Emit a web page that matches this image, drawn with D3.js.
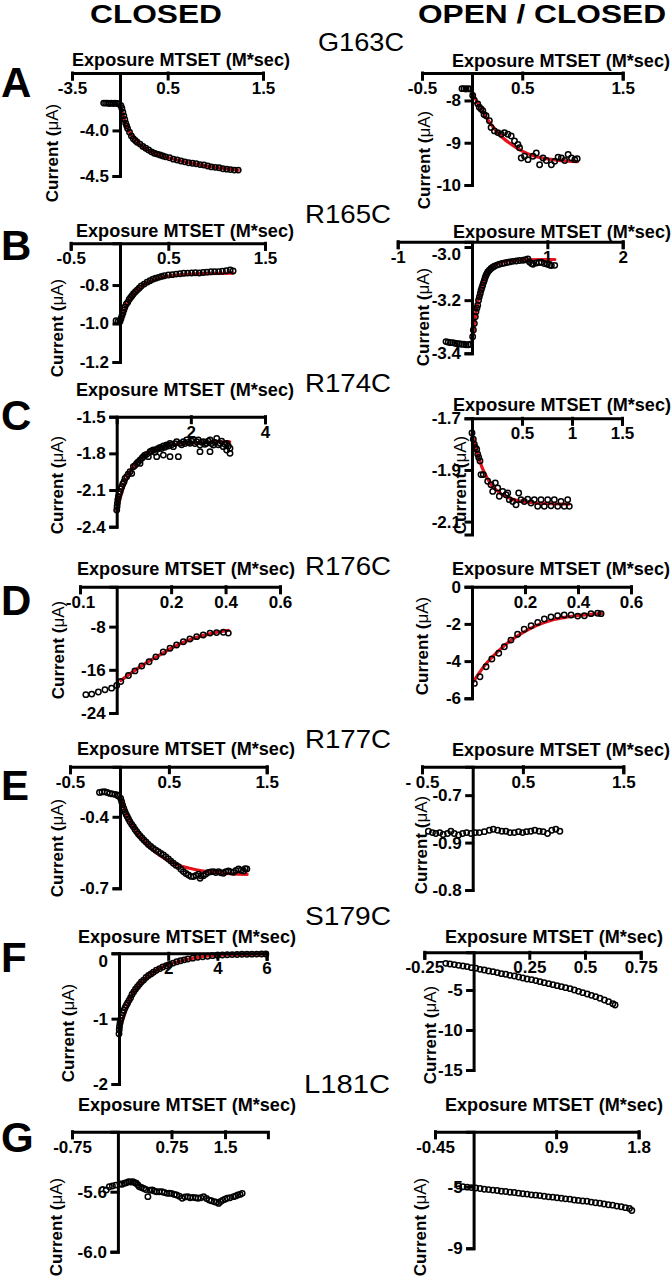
<!DOCTYPE html>
<html><head><meta charset="utf-8">
<script src="https://cdn.jsdelivr.net/npm/d3@7"></script>
<style>
body{margin:0;background:#fff}
svg{display:block}
.ax path,.ax line{stroke:#000;stroke-width:3;stroke-linecap:square}
.ax text{font-family:"Liberation Sans",Arial,sans-serif;font-weight:bold;font-size:17px;fill:#000}
text{font-family:"Liberation Sans",Arial,sans-serif}
</style></head><body><svg id="c" width="672" height="1280"></svg>
<script>
// ---------- text ----------
const colTitles = ["CLOSED", "OPEN / CLOSED"];
const rowLetters = ["A", "B", "C", "D", "E", "F", "G"];
const mutants = ["G163C", "R165C", "R174C", "R176C", "R177C", "S179C", "L181C"];
const xTitle = "Exposure MTSET (M*sec)";
const yTitle = "Current (";
const yUnit = "\u03BCA)";

// ---------- A: G163C ----------
const aCXDom = [-0.5, 0, 1.5], aCYDom = [-4.5, -3.37];
const aCXTicks = [-0.5, 0.5, 1.5], aCXLabels = ["-3.5", "0.5", "1.5"];
const aCYTicks = [-4.0, -4.5], aCYLabels = ["-4.0", "-4.5"];
const aCPts = [[-0.17,-3.70],[-0.15,-3.70],[-0.13,-3.70],[-0.11,-3.705],[-0.09,-3.70],[-0.07,-3.705],[-0.05,-3.70],[-0.03,-3.705],[-0.01,-3.71],
[0.01,-3.73],[0.02,-3.76],[0.03,-3.80],[0.04,-3.84],[0.05,-3.88],[0.06,-3.92],[0.07,-3.95],[0.08,-3.98],[0.10,-4.02],[0.12,-4.06],[0.14,-4.09],[0.16,-4.11],[0.18,-4.13],[0.21,-4.15],[0.24,-4.175],[0.27,-4.195],[0.30,-4.215],[0.33,-4.235],[0.36,-4.25],[0.39,-4.26],[0.42,-4.27],[0.45,-4.28],[0.48,-4.29],[0.52,-4.30],[0.56,-4.315],[0.60,-4.325],[0.64,-4.335],[0.68,-4.345],[0.72,-4.355],[0.76,-4.36],[0.80,-4.365],[0.84,-4.375],[0.88,-4.38],[0.92,-4.39],[0.96,-4.40],[1.00,-4.405],[1.04,-4.41],[1.08,-4.42],[1.12,-4.425],[1.16,-4.43],[1.20,-4.435],[1.24,-4.435]];
const aCFit = [[0,-3.72],[0.05,-3.9],[0.1,-4.02],[0.2,-4.15],[0.3,-4.22],[0.45,-4.28],[0.6,-4.325],[0.8,-4.37],[1.0,-4.405],[1.24,-4.435]];

const aOXDom = [-0.5, 0, 1.5], aOYDom = [-10, -7.35];
const aOXTicks = [-0.5, 0.5, 1.5], aOXLabels = ["-0.5", "0.5", "1.5"];
const aOYTicks = [-8, -9, -10], aOYLabels = ["-8", "-9", "-10"];
const aOPts = [[-0.10,-7.72],[-0.08,-7.72],[-0.06,-7.73],[-0.04,-7.72],[-0.02,-7.73],[0.007,-7.88],[0.023,-8.0],[0.057,-8.08],[0.073,-8.16],[0.09,-8.2],[0.107,-8.24],[0.12,-8.33],[0.14,-8.36],[0.173,-8.48],[0.19,-8.64],[0.223,-8.72],[0.257,-8.76],[0.29,-8.80],[0.323,-8.76],[0.357,-8.80],[0.39,-8.84],[0.423,-8.96],[0.457,-9.04],[0.473,-9.12],[0.49,-9.36],[0.523,-9.32],[0.557,-9.40],[0.607,-9.32],[0.64,-9.24],[0.673,-9.52],[0.707,-9.36],[0.74,-9.42],[0.79,-9.52],[0.823,-9.44],[0.857,-9.34],[0.89,-9.36],[0.923,-9.42],[0.957,-9.28],[0.99,-9.36],[1.023,-9.40],[1.047,-9.38]];
const aOFit = [[0,-7.8],[0.1,-8.25],[0.2,-8.6],[0.3,-8.87],[0.4,-9.05],[0.5,-9.2],[0.6,-9.3],[0.7,-9.36],[0.85,-9.41],[1.05,-9.45]];

// ---------- B: R165C ----------
const bCXDom = [-0.5, 0, 1.5], bCYDom = [-1.2, -0.583];
const bCXTicks = [-0.5, 0.5, 1.5], bCXLabels = ["-0.5", "0.5", "1.5"];
const bCYTicks = [-0.8, -1.0, -1.2], bCYLabels = ["-0.8", "-1.0", "-1.2"];
const bCPts = [[-0.04,-0.985],[-0.02,-0.99],[0,-0.99],[0.01,-0.975],[0.02,-0.96],[0.03,-0.945],[0.04,-0.93],[0.05,-0.915],[0.065,-0.90],[0.08,-0.89],[0.095,-0.875],[0.11,-0.865],[0.125,-0.855],[0.14,-0.845],[0.16,-0.835],[0.18,-0.825],[0.2,-0.815],[0.22,-0.805],[0.25,-0.795],[0.28,-0.785],[0.31,-0.778],[0.34,-0.77],[0.37,-0.765],[0.40,-0.76],[0.43,-0.755],[0.46,-0.752],[0.5,-0.748],[0.54,-0.746],[0.58,-0.743],[0.62,-0.741],[0.66,-0.739],[0.70,-0.738],[0.74,-0.737],[0.78,-0.736],[0.82,-0.737],[0.86,-0.735],[0.90,-0.733],[0.94,-0.731],[0.98,-0.73],[1.02,-0.73],[1.06,-0.728],[1.1,-0.726],[1.14,-0.722],[1.17,-0.727]];
const bCFit = [[0,-1.0],[0.05,-0.93],[0.1,-0.88],[0.15,-0.845],[0.2,-0.815],[0.3,-0.785],[0.4,-0.765],[0.6,-0.748],[0.8,-0.742],[1.17,-0.738]];

const bOXDom = [-1, 0, 2], bOYDom = [-3.4, -2.98];
const bOXTicks = [-1, 1, 2], bOXLabels = ["-1", "1", "2"];
const bOYTicks = [-3.0, -3.2, -3.4], bOYLabels = ["-3.0", "-3.2", "-3.4"];
const bOPts = [[-0.35,-3.356],[-0.32,-3.358],[-0.29,-3.36],[-0.26,-3.36],[-0.23,-3.362],[-0.2,-3.364],[-0.17,-3.364],[-0.14,-3.366],[-0.11,-3.366],[-0.08,-3.368],[-0.05,-3.368],[-0.02,-3.366],
[0.009,-3.3375],[0.018,-3.3125],[0.031,-3.2875],[0.044,-3.2625],[0.053,-3.244],[0.065,-3.23],[0.076,-3.219],[0.087,-3.2],[0.098,-3.1875],[0.11,-3.175],[0.12,-3.1625],[0.131,-3.153],[0.142,-3.144],[0.153,-3.134],[0.164,-3.125],[0.175,-3.115],[0.187,-3.106],[0.198,-3.1],[0.209,-3.094],[0.23,-3.087],[0.253,-3.081],[0.275,-3.076],[0.298,-3.0725],[0.33,-3.068],[0.364,-3.065],[0.4,-3.062],[0.431,-3.06],[0.465,-3.058],[0.498,-3.056],[0.54,-3.054],[0.587,-3.0525],[0.63,-3.051],[0.676,-3.05],[0.71,-3.048],[0.742,-3.045],[0.764,-3.056],[0.79,-3.062],[0.809,-3.065],[0.853,-3.06],[0.89,-3.058],[0.92,-3.0575],[0.96,-3.062],[1.0,-3.065],[1.03,-3.068],[1.053,-3.07],[1.098,-3.069]];
const bOFit = [[0,-3.36],[0.02,-3.31],[0.05,-3.25],[0.08,-3.2],[0.12,-3.155],[0.17,-3.115],[0.25,-3.08],[0.35,-3.062],[0.5,-3.052],[0.7,-3.048],[1.1,-3.047]];

// ---------- C: R174C ----------
const cCXDom = [0, 4], cCYDom = [-2.4, -1.5];
const cCXTicks = [2, 4], cCXLabels = ["2", "4"];
const cCYTicks = [-1.5, -1.8, -2.1, -2.4], cCYLabels = ["-1.5", "-1.8", "-2.1", "-2.4"];
const cCPts = [[0,-2.264],[0.01,-2.235],[0.018,-2.209],[0.03,-2.18],[0.045,-2.155],[0.065,-2.13],[0.09,-2.114],[0.11,-2.09],[0.135,-2.073],[0.165,-2.05],[0.198,-2.032],[0.225,-2.005],[0.27,-1.991],[0.31,-1.97],[0.36,-1.95],[0.405,-1.964],[0.449,-1.909],[0.49,-1.9],[0.539,-1.882],[0.58,-1.87],[0.629,-1.855],[0.629,-1.882],[0.68,-1.84],[0.719,-1.827],[0.76,-1.815],[0.809,-1.808],[0.854,-1.827],[0.899,-1.786],[0.94,-1.78],[0.989,-1.773],[1.03,-1.79],[1.079,-1.767],[1.079,-1.827],[1.12,-1.76],[1.169,-1.751],[1.21,-1.76],[1.258,-1.74],[1.258,-1.814],[1.3,-1.75],[1.348,-1.732],[1.39,-1.74],[1.438,-1.718],[1.438,-1.827],[1.48,-1.73],[1.528,-1.745],[1.57,-1.72],[1.618,-1.705],[1.663,-1.827],[1.708,-1.718],[1.75,-1.73],[1.798,-1.705],[1.84,-1.72],[1.888,-1.691],[1.93,-1.71],[1.978,-1.718],[2.02,-1.7],[2.067,-1.691],[2.11,-1.72],[2.157,-1.705],[2.2,-1.69],[2.247,-1.732],[2.247,-1.786],[2.29,-1.71],[2.337,-1.705],[2.38,-1.725],[2.427,-1.718],[2.47,-1.70],[2.517,-1.691],[2.517,-1.786],[2.56,-1.72],[2.607,-1.732],[2.65,-1.71],[2.697,-1.677],[2.74,-1.73],[2.787,-1.718],[2.83,-1.70],[2.876,-1.745],[2.92,-1.725],[2.966,-1.718],[2.966,-1.773],[3.01,-1.74],[3.056,-1.759],[3.056,-1.8]];
const cCFit = [[0,-2.27],[0.2,-2.06],[0.4,-1.93],[0.6,-1.85],[0.8,-1.8],[1.0,-1.77],[1.5,-1.73],[2.0,-1.715],[3.05,-1.705]];

const cOXDom = [0, 1.5], cOYDom = [-2.15, -1.7];
const cOXTicks = [0.5, 1, 1.5], cOXLabels = ["0.5", "1", "1.5"];
const cOYTicks = [-1.7, -1.9, -2.1], cOYLabels = ["-1.7", "-1.9", "-2.1"];
const cOPts = [[0,-1.757],[0.013,-1.781],[0.023,-1.8],[0.033,-1.813],[0.047,-1.82],[0.057,-1.839],[0.067,-1.852],[0.08,-1.865],[0.09,-1.918],[0.113,-1.918],[0.157,-1.944],[0.19,-1.957],[0.207,-1.983],[0.233,-1.95],[0.257,-1.97],[0.273,-2.002],[0.307,-1.983],[0.34,-1.996],[0.357,-1.989],[0.373,-2.015],[0.407,-2.022],[0.44,-2.035],[0.467,-1.989],[0.49,-2.015],[0.523,-2.022],[0.557,-2.013],[0.59,-2.028],[0.623,-2.015],[0.657,-2.041],[0.69,-2.015],[0.723,-2.041],[0.757,-2.015],[0.79,-2.039],[0.823,-2.015],[0.857,-2.041],[0.89,-2.022],[0.923,-2.041],[0.957,-2.015],[0.973,-2.041]];
const cOFit = [[0,-1.76],[0.05,-1.83],[0.1,-1.89],[0.15,-1.93],[0.2,-1.96],[0.3,-1.995],[0.4,-2.013],[0.55,-2.025],[0.75,-2.03],[0.97,-2.032]];

// ---------- D: R176C ----------
const dCXDom = [-0.1, 0, 0.6], dCYDom = [-24, -0.6];
const dCXTicks = [-0.1, 0.2, 0.4, 0.6], dCXLabels = ["-0.1", "0.2", "0.4", "0.6"];
const dCYTicks = [-8, -16, -24], dCYLabels = ["-8", "-16", "-24"];
const dCPts = [[-0.084,-20.6],[-0.068,-20.5],[-0.05,-20.1],[-0.032,-19.7],[-0.014,-19.4],[0,-18.9],[0.015,-18.15],[0.043,-17.05],[0.067,-16.2],[0.092,-15.3],[0.119,-14.5],[0.144,-13.6],[0.171,-12.7],[0.196,-12.0],[0.22,-11.4],[0.245,-10.8],[0.269,-10.3],[0.294,-9.85],[0.318,-9.55],[0.343,-9.2],[0.367,-9.1],[0.392,-9.05],[0.41,-9.2]];
const dCFit = [[0.015,-18.0],[0.05,-16.7],[0.1,-15.0],[0.15,-13.5],[0.2,-12.0],[0.25,-10.8],[0.3,-9.9],[0.35,-9.25],[0.41,-8.7]];

const dOXDom = [0, 0.6], dOYDom = [-6, 0];
const dOXTicks = [0.2, 0.4, 0.6], dOXLabels = ["0.2", "0.4", "0.6"];
const dOYTicks = [0, -2, -4, -6], dOYLabels = ["0", "-2", "-4", "-6"];
const dOPts = [[0.009,-5.2],[0.03,-4.84],[0.053,-4.3],[0.075,-3.89],[0.101,-3.58],[0.122,-3.23],[0.147,-2.87],[0.172,-2.56],[0.197,-2.29],[0.223,-2.1],[0.248,-1.92],[0.273,-1.74],[0.298,-1.63],[0.323,-1.56],[0.348,-1.52],[0.374,-1.52],[0.399,-1.58],[0.424,-1.56],[0.449,-1.45],[0.474,-1.43],[0.487,-1.45]];
const dOFit = [[0.005,-5.1],[0.05,-4.2],[0.1,-3.45],[0.15,-2.85],[0.2,-2.4],[0.25,-2.05],[0.3,-1.8],[0.35,-1.65],[0.4,-1.55],[0.49,-1.45]];

// ---------- E: R177C ----------
const eCXDom = [-0.5, 0, 1.5], eCYDom = [-0.7, -0.19];
const eCXTicks = [-0.5, 0.5, 1.5], eCXLabels = ["-0.5", "0.5", "1.5"];
const eCYTicks = [-0.4, -0.7], eCYLabels = ["-0.4", "-0.7"];
const eCPts = [[-0.205,-0.298],[-0.18,-0.296],[-0.154,-0.295],[-0.128,-0.298],[-0.102,-0.302],[-0.077,-0.304],[-0.051,-0.306],[-0.03,-0.309],[-0.017,-0.313],
[0.007,-0.323],[0.017,-0.337],[0.027,-0.351],[0.039,-0.365],[0.051,-0.379],[0.063,-0.39],[0.075,-0.4],[0.088,-0.41],[0.102,-0.421],[0.12,-0.432],[0.137,-0.442],[0.154,-0.453],[0.171,-0.463],[0.188,-0.472],[0.205,-0.48],[0.225,-0.489],[0.246,-0.498],[0.268,-0.507],[0.29,-0.516],[0.315,-0.525],[0.341,-0.533],[0.366,-0.54],[0.392,-0.547],[0.418,-0.554],[0.444,-0.56],[0.47,-0.569],[0.495,-0.577],[0.52,-0.586],[0.546,-0.595],[0.572,-0.603],[0.597,-0.609],[0.623,-0.62],[0.648,-0.63],[0.674,-0.638],[0.7,-0.644],[0.726,-0.65],[0.751,-0.651],[0.777,-0.646],[0.802,-0.641],[0.819,-0.658],[0.828,-0.648],[0.853,-0.647],[0.878,-0.64],[0.904,-0.633],[0.93,-0.631],[0.956,-0.63],[0.98,-0.634],[1.007,-0.63],[1.032,-0.635],[1.058,-0.637],[1.083,-0.63],[1.109,-0.627],[1.135,-0.631],[1.16,-0.633],[1.186,-0.625],[1.212,-0.619],[1.237,-0.624],[1.263,-0.627],[1.28,-0.618],[1.297,-0.619]];
const eCFit = [[0,-0.31],[0.1,-0.415],[0.2,-0.48],[0.3,-0.525],[0.4,-0.56],[0.5,-0.585],[0.6,-0.603],[0.7,-0.615],[0.85,-0.628],[1.0,-0.634],[1.3,-0.642]];

const eOXDom = [-0.5, 0, 1.5], eOYDom = [-0.9, -0.64];
const eOXTicks = [-0.5, 0.5, 1.5], eOXLabels = ["- 0.5", "0.5", "1.5"];
const eOYTicks = [-0.7, -0.8, -0.9], eOYLabels = ["-0.7", "-0.9", "-0.8"];
const eOPts = [[-0.437,-0.776],[-0.397,-0.779],[-0.364,-0.781],[-0.325,-0.779],[-0.291,-0.783],[-0.248,-0.781],[-0.215,-0.776],[-0.182,-0.781],[-0.139,-0.784],[-0.099,-0.781],[-0.06,-0.779],[-0.017,-0.781],[0.026,-0.779],[0.066,-0.779],[0.116,-0.777],[0.166,-0.774],[0.205,-0.772],[0.248,-0.774],[0.291,-0.776],[0.331,-0.776],[0.371,-0.779],[0.414,-0.779],[0.457,-0.777],[0.497,-0.779],[0.536,-0.777],[0.579,-0.776],[0.619,-0.774],[0.662,-0.776],[0.702,-0.777],[0.745,-0.781],[0.788,-0.774],[0.828,-0.772],[0.868,-0.776]];

// ---------- F: S179C ----------
const fCXDom = [0, 6], fCYDom = [-2, 0];
const fCXTicks = [2, 4, 6], fCXLabels = ["2", "4", "6"];
const fCYTicks = [0, -1, -2], fCYLabels = ["0", "-1", "-2"];
const fCPts = [[0,-1.23],[0.01,-1.17],[0.02,-1.12],[0.04,-1.07],[0.06,-1.03],[0.09,-0.99],[0.12,-0.95],[0.16,-0.91],[0.2,-0.87],[0.25,-0.83],[0.3,-0.795],[0.35,-0.76],[0.41,-0.72],[0.47,-0.68],[0.53,-0.63],[0.6,-0.59],[0.67,-0.55],[0.75,-0.51],[0.83,-0.475],[0.91,-0.44],[1.0,-0.41],[1.1,-0.37],[1.2,-0.34],[1.3,-0.315],[1.4,-0.29],[1.52,-0.26],[1.65,-0.235],[1.78,-0.21],[1.92,-0.19],[2.05,-0.17],[2.2,-0.15],[2.35,-0.13],[2.5,-0.115],[2.65,-0.1],[2.8,-0.088],[3.0,-0.074],[3.2,-0.062],[3.4,-0.052],[3.6,-0.044],[3.8,-0.036],[4.0,-0.03],[4.2,-0.026],[4.4,-0.023],[4.6,-0.02],[4.8,-0.018],[5.0,-0.015],[5.2,-0.014],[5.4,-0.013],[5.6,-0.012],[5.8,-0.011],[5.97,-0.01]];
const fCFit = [[0,-1.2],[0.5,-0.66],[1,-0.41],[1.5,-0.265],[2,-0.175],[3,-0.075],[4,-0.03],[6,-0.01]];

const fOXDom = [-0.25, 0, 0.75], fOYDom = [-15, -0.29];
const fOXTicks = [-0.25, 0.25, 0.5, 0.75], fOXLabels = ["-0.25", "0.25", "0.5", "0.75"];
const fOYTicks = [-5, -10, -15], fOYLabels = ["-5", "-10", "-15"];
const fOPts = [[-0.141,-1.67],[-0.12,-1.75],[-0.098,-1.83],[-0.076,-1.92],[-0.054,-2.0],[-0.033,-2.08],[-0.011,-2.21],[0.01,-2.29],[0.029,-2.42],[0.048,-2.5],[0.067,-2.63],[0.087,-2.71],[0.106,-2.83],[0.125,-2.96],[0.144,-3.04],[0.163,-3.17],[0.183,-3.25],[0.202,-3.375],[0.221,-3.5],[0.24,-3.625],[0.26,-3.71],[0.279,-3.83],[0.298,-3.96],[0.317,-4.08],[0.337,-4.21],[0.356,-4.33],[0.375,-4.46],[0.394,-4.58],[0.413,-4.71],[0.433,-4.83],[0.452,-5.0],[0.471,-5.17],[0.49,-5.33],[0.51,-5.5],[0.529,-5.67],[0.548,-5.83],[0.567,-6.04],[0.587,-6.25],[0.606,-6.46],[0.625,-6.71],[0.635,-6.875]];

// ---------- G: L181C ----------
const gCXDom = [-0.75, 0, 2.1], gCYDom = [-6.0, -5.2];
const gCXTicks = [-0.75, 0.75, 1.5], gCXLabels = ["-0.75", "0.75", "1.5"];
const gCYTicks = [-5.6, -6.0], gCYLabels = ["-5.6", "-6.0"];
const gCPts = [[-0.19,-5.589],[-0.14,-5.567],[-0.09,-5.562],[-0.035,-5.556],[0.03,-5.549],[0.06,-5.55],[0.09,-5.544],[0.12,-5.54],[0.15,-5.533],[0.18,-5.535],[0.21,-5.533],[0.235,-5.54],[0.258,-5.544],[0.28,-5.555],[0.3,-5.567],[0.33,-5.572],[0.36,-5.578],[0.39,-5.585],[0.42,-5.633],[0.45,-5.59],[0.48,-5.589],[0.51,-5.595],[0.54,-5.6],[0.58,-5.6],[0.618,-5.6],[0.65,-5.605],[0.69,-5.611],[0.72,-5.61],[0.75,-5.611],[0.79,-5.618],[0.822,-5.622],[0.86,-5.63],[0.9,-5.644],[0.94,-5.635],[0.978,-5.633],[1.01,-5.64],[1.05,-5.638],[1.09,-5.64],[1.122,-5.644],[1.16,-5.64],[1.2,-5.633],[1.24,-5.645],[1.278,-5.656],[1.31,-5.66],[1.35,-5.667],[1.38,-5.67],[1.41,-5.678],[1.44,-5.665],[1.47,-5.656],[1.5,-5.65],[1.53,-5.644],[1.57,-5.64],[1.62,-5.633],[1.65,-5.628],[1.68,-5.622],[1.71,-5.618],[1.74,-5.611]];

const gOXDom = [-0.45, 0, 1.8], gOYDom = [-9, -1.43];
const gOXTicks = [-0.45, 0.9, 1.8], gOXLabels = ["-0.45", "0.9", "1.8"];
const gOYTicks = [-5, -9], gOYLabels = ["-5", "-9"];
const gOPts = [[-0.175,-4.96],[-0.125,-5.0],[-0.075,-5.03],[-0.025,-5.06],[0.023,-5.09],[0.07,-5.12],[0.117,-5.17],[0.163,-5.19],[0.21,-5.22],[0.257,-5.25],[0.303,-5.30],[0.35,-5.31],[0.397,-5.36],[0.443,-5.38],[0.49,-5.42],[0.537,-5.46],[0.583,-5.48],[0.63,-5.53],[0.677,-5.55],[0.723,-5.58],[0.77,-5.62],[0.817,-5.66],[0.863,-5.68],[0.91,-5.72],[0.957,-5.75],[1.003,-5.79],[1.05,-5.81],[1.097,-5.86],[1.143,-5.89],[1.19,-5.93],[1.237,-5.95],[1.283,-6.0],[1.33,-6.04],[1.377,-6.08],[1.423,-6.12],[1.47,-6.17],[1.517,-6.20],[1.563,-6.26],[1.61,-6.30],[1.656,-6.36],[1.70,-6.42],[1.726,-6.55]];

// ---------- layout (pixel positions only) ----------
// ax: x-axis y; x0/x1: x-axis ends; yx: y-axis x; yb: y-axis bottom; tx,ty: x-title centre/baseline; cx,cy: y-title centre; ls: shift of top y label
const layout = {
  aC:{ax:73,  x0:72,   yx:120,  x1:263,   yb:176,   tx:181, ty:66,   cx:52,  cy:153},
  aO:{ax:73,  x0:422,  yx:472,  x1:622.7, yb:185,   tx:561, ty:67,   cx:424, cy:160},
  bC:{ax:243.3,x0:70.7,yx:120,  x1:265,   yb:362,   tx:185, ty:237,  cx:57,  cy:328},
  bO:{ax:241.7,x0:397.7,yx:472, x1:622.7, yb:353.3, tx:562, ty:238,  cx:423, cy:317, ls:7},
  cC:{ax:416.7,x0:116.7,yx:116.7,x1:265,  yb:526.7, tx:185, ty:396,  cx:57,  cy:485},
  cO:{ax:418.3,x0:472, yx:472,  x1:622,   yb:534.5, tx:562, ty:411,  cx:460, cy:485},
  dC:{ax:586.7,x0:80,  yx:116.7,x1:280,   yb:713,   tx:186, ty:575,  cx:58,  cy:650},
  dO:{ax:586.7,x0:472, yx:472,  x1:631,   yb:698.3, tx:561, ty:575,  cx:422, cy:646},
  eC:{ax:766.7,x0:70,  yx:120,  x1:266.7, yb:888.3, tx:186, ty:755,  cx:57,  cy:848},
  eO:{ax:766.7,x0:422, yx:472.7,x1:623.3, yb:890,   tx:561, ty:756,  cx:421, cy:845},
  fC:{ax:953.3,x0:119, yx:119,  x1:266.6, yb:1084,  tx:187, ty:943,  cx:68,  cy:1033, ls:8},
  fO:{ax:952.3,x0:424.3,yx:473.6,x1:640.7,yb:1070,  tx:554, ty:943,  cx:430, cy:1035},
  gC:{ax:1131.7,x0:72, yx:117.9,x1:267.9, yb:1251.7,tx:187, ty:1111, cx:56,  cy:1227},
  gO:{ax:1131.7,x0:435,yx:473.6,x1:638.6, yb:1248.3,tx:554, ty:1111, cx:420, cy:1227}
};
const letterY = [97, 260, 430, 615, 800, 972, 1152];
const mutantPos = [[318,51],[305,223],[305,392],[305,575],[305,748],[305,925],[304,1093]];

const panels = [
  {id:"aC", pts:aCPts, fit:aCFit, xDom:aCXDom, yDom:aCYDom, xT:aCXTicks, xL:aCXLabels, yT:aCYTicks, yL:aCYLabels},
  {id:"aO", pts:aOPts, fit:aOFit, xDom:aOXDom, yDom:aOYDom, xT:aOXTicks, xL:aOXLabels, yT:aOYTicks, yL:aOYLabels},
  {id:"bC", pts:bCPts, fit:bCFit, xDom:bCXDom, yDom:bCYDom, xT:bCXTicks, xL:bCXLabels, yT:bCYTicks, yL:bCYLabels},
  {id:"bO", pts:bOPts, fit:bOFit, xDom:bOXDom, yDom:bOYDom, xT:bOXTicks, xL:bOXLabels, yT:bOYTicks, yL:bOYLabels},
  {id:"cC", pts:cCPts, fit:cCFit, xDom:cCXDom, yDom:cCYDom, xT:cCXTicks, xL:cCXLabels, yT:cCYTicks, yL:cCYLabels},
  {id:"cO", pts:cOPts, fit:cOFit, xDom:cOXDom, yDom:cOYDom, xT:cOXTicks, xL:cOXLabels, yT:cOYTicks, yL:cOYLabels},
  {id:"dC", pts:dCPts, fit:dCFit, xDom:dCXDom, yDom:dCYDom, xT:dCXTicks, xL:dCXLabels, yT:dCYTicks, yL:dCYLabels},
  {id:"dO", pts:dOPts, fit:dOFit, xDom:dOXDom, yDom:dOYDom, xT:dOXTicks, xL:dOXLabels, yT:dOYTicks, yL:dOYLabels},
  {id:"eC", pts:eCPts, fit:eCFit, xDom:eCXDom, yDom:eCYDom, xT:eCXTicks, xL:eCXLabels, yT:eCYTicks, yL:eCYLabels},
  {id:"eO", pts:eOPts, fit:null,  xDom:eOXDom, yDom:eOYDom, xT:eOXTicks, xL:eOXLabels, yT:eOYTicks, yL:eOYLabels},
  {id:"fC", pts:fCPts, fit:fCFit, xDom:fCXDom, yDom:fCYDom, xT:fCXTicks, xL:fCXLabels, yT:fCYTicks, yL:fCYLabels},
  {id:"fO", pts:fOPts, fit:null,  xDom:fOXDom, yDom:fOYDom, xT:fOXTicks, xL:fOXLabels, yT:fOYTicks, yL:fOYLabels},
  {id:"gC", pts:gCPts, fit:null,  xDom:gCXDom, yDom:gCYDom, xT:gCXTicks, xL:gCXLabels, yT:gCYTicks, yL:gCYLabels},
  {id:"gO", pts:gOPts, fit:null,  xDom:gOXDom, yDom:gOYDom, xT:gOXTicks, xL:gOXLabels, yT:gOYTicks, yL:gOYLabels}
];

const svg = d3.select("#c");
svg.append("rect").attr("width",672).attr("height",1280).attr("fill","#fff");

[[156,"CLOSED",132],[542,"OPEN / CLOSED",248]].forEach((t,i)=>{
  svg.append("text").attr("x",t[0]).attr("y",23).attr("text-anchor","middle")
    .attr("font-size",26).attr("font-weight","bold")
    .attr("textLength",t[2]).attr("lengthAdjust","spacingAndGlyphs").text(colTitles[i]);
});
rowLetters.forEach((l,i)=>{
  svg.append("text").attr("x",1).attr("y",letterY[i]).attr("font-size",42).attr("font-weight","bold").text(l);
});
mutants.forEach((m,i)=>{
  svg.append("text").attr("x",mutantPos[i][0]).attr("y",mutantPos[i][1]).attr("font-size",25)
    .attr("textLength",86).attr("lengthAdjust","spacingAndGlyphs").text(m);
});

panels.forEach(p=>{
  const L = layout[p.id];
  const xr = p.xDom.length === 3 ? [L.x0, L.yx, L.x1] : [L.x0, L.x1];
  const x = d3.scaleLinear().domain(p.xDom).range(xr);
  const y = d3.scaleLinear().domain(p.yDom).range([L.yb, L.ax]);
  const g = svg.append("g");

  if (p.fit) {
    g.append("path").datum(p.fit)
      .attr("d", d3.line().x(d=>x(d[0])).y(d=>y(d[1])).curve(d3.curveMonotoneX))
      .attr("fill","none").attr("stroke","#e3121b").attr("stroke-width",3.2).attr("stroke-linecap","round");
  }
  g.selectAll("circle").data(p.pts).join("circle")
    .attr("cx",d=>x(d[0])).attr("cy",d=>y(d[1])).attr("r",2.7)
    .attr("fill","none").attr("stroke","#000").attr("stroke-width",1.5);

  const xa = svg.append("g").attr("class","ax").attr("transform",`translate(0,${L.ax})`)
    .call(d3.axisBottom(x).tickValues(p.xT).tickFormat((d,i)=>p.xL[i]).tickSize(6).tickSizeOuter(6).tickPadding(3));
  const ya = svg.append("g").attr("class","ax").attr("transform",`translate(${L.yx},0)`)
    .call(d3.axisLeft(y).tickValues(p.yT).tickFormat((d,i)=>p.yL[i]).tickSize(6).tickSizeOuter(6).tickPadding(5));
  [xa,ya].forEach(a=>a.attr("font-size",null).attr("font-family",null));
  if (L.ls) ya.selectAll(".tick text").filter((d,i)=>i===0).attr("transform",`translate(0,${L.ls})`);

  svg.append("text").attr("x",L.tx).attr("y",L.ty).attr("text-anchor","middle")
    .attr("font-size",17.5).attr("font-weight","bold")
    .attr("textLength",218).attr("lengthAdjust","spacingAndGlyphs").text(xTitle);

  const yt = svg.append("text").attr("transform",`translate(${L.cx},${L.cy}) rotate(-90)`)
    .attr("text-anchor","middle").attr("dominant-baseline","central")
    .attr("font-size",17).attr("font-weight","bold");
  yt.append("tspan").text(yTitle);
  yt.append("tspan").attr("font-weight","normal").text(yUnit);
});
</script></body></html>
